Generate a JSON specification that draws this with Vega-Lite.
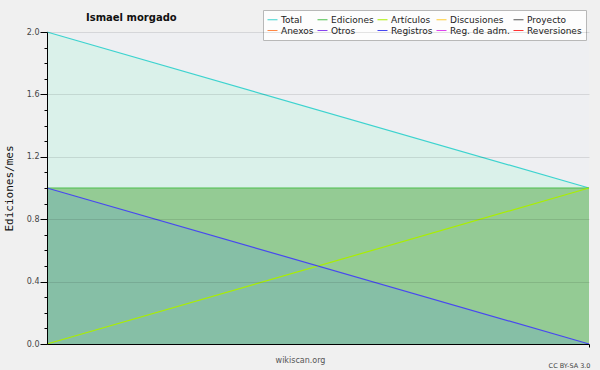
{
  "$schema": "https://vega.github.io/schema/vega-lite/v6.json",
  "width": 542,
  "height": 312,
  "autosize": {"type": "none"},
  "padding": {"left": 47, "top": 32, "right": 11, "bottom": 26},
  "background": "#f0f0f0",
  "title": {
    "text": "Ismael morgado",
    "anchor": "start",
    "frame": "group",
    "dx": 39,
    "offset": -13,
    "font": "DejaVu Sans",
    "fontSize": 10,
    "fontWeight": "bold",
    "color": "#111"
  },
  "config": {
    "view": {"fill": "#eeeff2", "stroke": null},
    "legend": {
      "orient": "none",
      "legendX": 216,
      "legendY": -22,
      "direction": "horizontal",
      "columns": 5,
      "columnPadding": 1,
      "rowPadding": 0,
      "padding": 4,
      "fillColor": "#fdfdfd",
      "strokeColor": "#b8b8b8",
      "symbolType": "stroke",
      "symbolSize": 100,
      "symbolStrokeWidth": 1,
      "labelFont": "DejaVu Sans",
      "labelFontSize": 9,
      "labelColor": "#222",
      "labelOffset": 3
    }
  },
  "data": {
    "values": [
      {"serie": "Total", "mes": 0, "valor": 2},
      {"serie": "Total", "mes": 1, "valor": 1},
      {"serie": "Ediciones", "mes": 0, "valor": 1},
      {"serie": "Ediciones", "mes": 1, "valor": 1},
      {"serie": "Artículos", "mes": 0, "valor": 0},
      {"serie": "Artículos", "mes": 1, "valor": 1},
      {"serie": "Registros", "mes": 0, "valor": 1},
      {"serie": "Registros", "mes": 1, "valor": 0}
    ]
  },
  "resolve": {"axis": {"x": "independent", "y": "independent"}},
  "layer": [
    {
      "transform": [{"filter": "datum.serie === 'Total'"}],
      "mark": {"type": "area", "color": "#daf1ea"},
      "encoding": {
        "x": {
          "field": "mes", "type": "quantitative",
          "scale": {"domain": [0, 1], "nice": false, "zero": false},
          "axis": {"orient": "bottom", "domain": false, "ticks": false, "labels": false, "grid": false,
            "title": "CC BY-SA 3.0", "titleFont": "DejaVu Sans", "titleFontSize": 6.5, "titleFontWeight": "normal",
            "titleColor": "#444", "titleX": 543, "titleY": 21, "titleAlign": "right", "titleBaseline": "middle"}
        },
        "y": {
          "field": "valor", "type": "quantitative",
          "scale": {"domain": [0, 2], "nice": false},
          "axis": {"orient": "left", "values": [0.1,0.2,0.3,0.5,0.6,0.7,0.9,1.0,1.1,1.3,1.4,1.5,1.7,1.8,1.9],
            "tickSize": 3, "tickColor": "#000", "labels": false, "domain": false, "grid": false, "title": null}
        }
      }
    },
    {
      "transform": [{"filter": "datum.serie === 'Ediciones'"}],
      "mark": {"type": "area", "color": "#94cb94"},
      "encoding": {
        "x": {"field": "mes", "type": "quantitative", "axis": null},
        "y": {"field": "valor", "type": "quantitative", "axis": null}
      }
    },
    {
      "transform": [{"filter": "datum.serie === 'Registros'"}],
      "mark": {"type": "area", "color": "#86bfa6"},
      "encoding": {
        "x": {"field": "mes", "type": "quantitative", "axis": null},
        "y": {"field": "valor", "type": "quantitative", "axis": null}
      }
    },
    {
      "mark": {"type": "line", "strokeWidth": 1.2},
      "encoding": {
        "x": {
          "field": "mes", "type": "quantitative",
          "axis": {"orient": "bottom", "values": [1], "tickSize": 3, "tickColor": "#000", "labels": false, "grid": false,
            "domainColor": "#000", "title": "wikiscan.org", "titleFont": "DejaVu Sans", "titleFontSize": 8,
            "titleFontWeight": "normal", "titleColor": "#555", "titleX": 253, "titleY": 16, "titleBaseline": "middle", "zindex": 1}
        },
        "y": {
          "field": "valor", "type": "quantitative",
          "axis": {"orient": "left", "values": [0, 0.4, 0.8, 1.2, 1.6, 2.0], "format": ".1f",
            "tickSize": 7, "tickColor": "#000", "domainColor": "#000", "labelFont": "DejaVu Sans", "labelFontSize": 8,
            "labelColor": "#444", "labelPadding": 1, "grid": true, "gridColor": "#000", "gridOpacity": 0.1, "zindex": 1,
            "title": "Ediciones/mes", "titleFont": "DejaVu Sans Mono", "titleFontSize": 11, "titleFontWeight": "normal",
            "titleColor": "#111", "titlePadding": 12}
        },
        "color": {
          "field": "serie", "type": "nominal",
          "scale": {
            "domain": ["Total", "Ediciones", "Artículos", "Discusiones", "Proyecto", "Anexos", "Otros", "Registros", "Reg. de adm.", "Reversiones"],
            "range": ["#3dd3cf", "#4cbf4c", "#aaee00", "#ffcc33", "#555555", "#ff8844", "#8844ee", "#4848f0", "#dd44ee", "#ff3333"]
          },
          "legend": {"title": null}
        }
      }
    }
  ]
}
